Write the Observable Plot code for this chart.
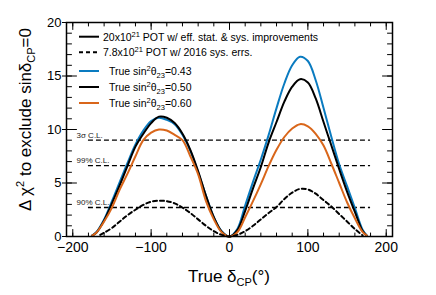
<!DOCTYPE html>
<html><head><meta charset="utf-8">
<script src="https://cdn.jsdelivr.net/npm/d3@7"></script>
<script src="https://cdn.jsdelivr.net/npm/@observablehq/plot@0.6"></script>
<style>
body{margin:0;background:#fff}
svg{font-family:"Liberation Sans",Arial,Helvetica,sans-serif}
</style>
</head><body><div id="chart"></div>
<script>
// ---- data ----
const deltaCP = [-175,-170,-160,-150,-140,-130,-120,-110,-100,-90,-80,-70,-60,-50,-40,-30,-20,-10,0,
                 10,20,30,40,50,60,70,80,90,100,110,120,130,140,150,160,170,175];
const chi2_043 = [0.1,0.4,1.6,3.3,5.1,6.9,8.6,9.9,10.8,11.1,10.9,10.5,9.5,8.0,6.0,3.8,1.8,0.5,0,
                  0.7,2.9,5.1,7.2,9.5,12.0,14.3,16.0,16.8,16.4,14.6,12.0,9.3,6.75,4.7,2.65,0.6,0.1];
const chi2_050 = [0.1,0.35,1.5,3.1,4.8,6.63,8.4,9.6,10.6,11.2,11.1,10.6,9.6,8.1,6.1,3.8,1.8,0.45,0,
                  0.6,2.4,4.5,6.5,8.8,10.7,12.6,14.0,14.7,14.4,12.9,10.7,8.5,6.3,4.2,2.3,0.5,0.1];
const chi2_060 = [0.1,0.35,1.4,2.7,4.4,5.9,7.5,9.0,9.7,10.0,9.9,9.5,9.0,7.5,5.8,3.3,1.6,0.4,0,
                  0.4,1.8,3.3,4.9,6.6,8.1,9.3,10.1,10.5,10.3,9.6,8.5,6.8,5.0,3.2,1.7,0.4,0.1];
const deltaCP2016 = [-165,-160,-150,-140,-130,-120,-110,-100,-90,-80,-70,-60,-50,-40,-30,-20,-10,0,
                     10,20,30,40,50,60,70,80,90,100,110,120,130,140,150,160,170];
const chi2_2016 = [0.15,0.35,0.8,1.4,2.0,2.5,2.95,3.25,3.35,3.3,3.1,2.7,2.2,1.6,1.0,0.5,0.15,0,
                   0.15,0.5,1.0,1.6,2.2,2.75,3.5,4.1,4.45,4.4,4.0,3.4,2.8,2.1,1.4,0.7,0.1];
const clValues = [9.0, 6.63, 2.71];
const clLabels = ["3σ C.L.", "99% C.L.", "90% C.L."];
const clRange = [-180, 180];
const xDomain = [-208, 208];
const yDomain = [0, 20];
const xMajor = [-200, -100, 0, 100, 200];
const xMinor = d3.range(-200, 201, 20);
const yMajor = [0, 5, 10, 15, 20];
const yMinor = d3.range(0, 21, 1);

const colBlue = "#0a7bc0", colOrange = "#d9661a", colBlack = "#000";

const rows = (xs, ys) => xs.map((x, i) => ({x, y: ys[i]}));
const s043 = rows(deltaCP, chi2_043);
const s050 = rows(deltaCP, chi2_050);
const s060 = rows(deltaCP, chi2_060);
const s2016 = rows(deltaCP2016, chi2_2016);
const cl = clValues.map((v, i) => ({y: v, label: clLabels[i]}));
const minusFmt = d => d < 0 ? "\u2212" + (-d) : String(d);

// inward tick shape for vector marks
const tickShape = {draw(ctx, l) { ctx.moveTo(0, 0); ctx.lineTo(0, -l); }};
const ticksY = (vals, xEdge, rot, len) => Plot.vector(vals, {x: () => xEdge, y: d => d, rotate: rot, length: len, anchor: "start", shape: tickShape, stroke: "#000", strokeWidth: 1});
const ticksX = (vals, yEdge, rot, len) => Plot.vector(vals, {x: d => d, y: () => yEdge, rotate: rot, length: len, anchor: "start", shape: tickShape, stroke: "#000", strokeWidth: 1});

const svg = Plot.plot({
  width: 436, height: 295,
  marginLeft: 66, marginRight: 44, marginTop: 22, marginBottom: 59,
  x: {domain: xDomain, label: null},
  y: {domain: yDomain, label: null},
  style: {fontFamily: '"Liberation Sans", Arial, sans-serif', background: "#fff", color: "#000"},
  marks: [
    Plot.ruleY(cl, {y: "y", x1: clRange[0], x2: clRange[1], stroke: "#000", strokeWidth: 1.3, strokeDasharray: "5,3"}),
    Plot.text(cl, {y: "y", text: "label", frameAnchor: "left", dx: 10, dy: -5, textAnchor: "start", fontSize: 8, fill: "#222"}),
    Plot.line(s043, {x: "x", y: "y", stroke: colBlue, strokeWidth: 2, curve: "catmull-rom"}),
    Plot.line(s050, {x: "x", y: "y", stroke: colBlack, strokeWidth: 2, curve: "catmull-rom"}),
    Plot.line(s060, {x: "x", y: "y", stroke: colOrange, strokeWidth: 2, curve: "catmull-rom"}),
    Plot.line(s2016, {x: "x", y: "y", stroke: colBlack, strokeWidth: 2, strokeDasharray: "4,3", curve: "catmull-rom"}),
    Plot.frame({stroke: "#000", strokeWidth: 1.5}),
    // left axis: inward ticks, short outward major ticks, labels
    ticksY(yMinor, xDomain[0], 90, 5),
    ticksY(yMajor, xDomain[0], 90, 10),
    Plot.axisY({anchor: "left", ticks: yMajor, tickSize: 4, tickPadding: 1, tickFormat: d => d, fontSize: 13, label: null}),
    // right axis
    ticksY(yMinor, xDomain[1], -90, 5),
    ticksY(yMajor, xDomain[1], -90, 10),
    // bottom axis
    ticksX(xMinor, yDomain[0], 0, 3.5),
    ticksX(xMajor, yDomain[0], 0, 7),
    Plot.axisX({anchor: "bottom", ticks: xMajor, tickSize: 0, tickPadding: 5.5, tickFormat: minusFmt, fontSize: 14, label: null}),
    // top axis
    ticksX(xMinor, yDomain[1], 180, 3.5),
    ticksX(xMajor, yDomain[1], 180, 7)
  ]
});
document.getElementById("chart").appendChild(svg);

const g = d3.select(svg).append("g").attr("fill", "#000").attr("text-anchor", "start");

// axis titles
const yt = g.append("text")
  .attr("transform", "translate(31,28) rotate(-90)")
  .attr("text-anchor", "end").attr("font-size", 17);
yt.append("tspan").text("Δ χ");
yt.append("tspan").attr("font-size", 11).attr("dy", -7).text("2");
yt.append("tspan").attr("dy", 7).text(" to exclude sinδ");
yt.append("tspan").attr("font-size", 11).attr("dy", 4).text("CP");
yt.append("tspan").attr("dy", -4).text("=0");

const xt = g.append("text")
  .attr("x", 229).attr("y", 282).attr("text-anchor", "middle").attr("font-size", 17);
xt.append("tspan").text("True δ");
xt.append("tspan").attr("font-size", 11).attr("dy", 4).text("CP");
xt.append("tspan").attr("dy", -4).text("(°)");

// legend
const legend = [
  {parts: [["20x10"], ["21", "sup"], [" POT w/ eff. stat. & sys. improvements"]], stroke: colBlack, dash: null, tx: 103},
  {parts: [["7.8x10"], ["21", "sup"], [" POT w/ 2016 sys. errs."]], stroke: colBlack, dash: "4,3", tx: 103},
  {parts: [["True sin"], ["2", "sup"], ["θ"], ["23", "sub"], ["=0.43"]], stroke: colBlue, dash: null, tx: 109},
  {parts: [["True sin"], ["2", "sup"], ["θ"], ["23", "sub"], ["=0.50"]], stroke: colBlack, dash: null, tx: 109},
  {parts: [["True sin"], ["2", "sup"], ["θ"], ["23", "sub"], ["=0.60"]], stroke: colOrange, dash: null, tx: 109}
];
const legendY = [36.7, 52.3, 71, 87, 103];
legend.forEach((e, i) => {
  const y = legendY[i];
  g.append("line").attr("x1", 79).attr("x2", 99).attr("y1", y).attr("y2", y)
    .attr("stroke", e.stroke).attr("stroke-width", 2).attr("stroke-dasharray", e.dash);
  const t = g.append("text").attr("x", e.tx).attr("y", y + 4).attr("font-size", 10.5).attr("text-anchor", "start");
  let cur = 0;
  e.parts.forEach(([s, kind]) => {
    const target = kind === "sup" ? -4 : kind === "sub" ? 3 : 0;
    const ts = t.append("tspan").attr("dy", target - cur).text(s);
    if (kind) ts.attr("font-size", 7.5);
    cur = target;
  });
});
</script>
</body></html>
